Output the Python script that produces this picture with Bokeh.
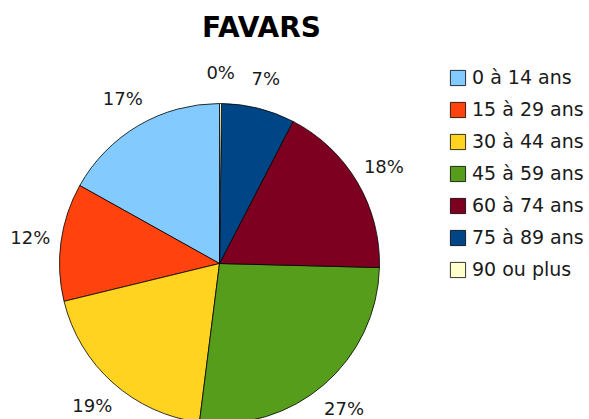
import math
from bokeh.plotting import figure
from bokeh.models import ColumnDataSource, Legend, LegendItem, Label, Range1d
from bokeh.core.properties import value
from bokeh.embed import file_html
from bokeh.resources import INLINE

# ---- data ----
categories = ["0 à 14 ans", "15 à 29 ans", "30 à 44 ans", "45 à 59 ans",
              "60 à 74 ans", "75 à 89 ans", "90 ou plus"]
shares = [16.9, 11.9, 19.2, 26.6, 17.8, 7.4, 0.2]
colors = ["#83caff", "#ff420e", "#ffd320", "#579d1c", "#7e0021", "#004586", "#ffffcc"]
title_text = "FAVARS"

# ---- layout (page px -> data: x = px, y = 419 - py) ----
W, H = 589, 419
cx, cy = 219, H - 263
R = 160
LR = 191

total = sum(shares)
starts, ends, lx, ly, labels = [], [], [], [], []
cum = 0.0
for s in shares:
    a0 = math.pi / 2 + 2 * math.pi * cum / total
    cum += s
    a1 = math.pi / 2 + 2 * math.pi * cum / total
    starts.append(a0)
    ends.append(a1)
    mid = (a0 + a1) / 2
    lx.append(cx + LR * math.cos(mid))
    ly.append(cy + LR * math.sin(mid))
    labels.append(f"{round(s / total * 100)}%")

src = ColumnDataSource(dict(cat=categories, start=starts, end=ends, color=colors,
                            lx=lx, ly=ly, lab=labels))

p = figure(width=W, height=H, x_range=Range1d(0, W), y_range=Range1d(0, H),
           output_backend="svg", toolbar_location=None, min_border=0)
p.axis.visible = False
p.grid.visible = False
p.outline_line_color = None
p.background_fill_color = "white"

r = p.wedge(x=cx, y=cy, radius=R, start_angle="start", end_angle="end",
            fill_color="color", line_color="black", line_width=0.8, source=src)

p.text(x="lx", y="ly", text="lab", source=src, text_align="center",
       text_baseline="middle", text_font=value("DejaVu Sans"),
       text_font_size="18px", text_color="#1a1a1a")

items = [LegendItem(label=c, renderers=[r], index=i) for i, c in enumerate(categories)]
legend = Legend(items=items, location=(448, 139), orientation="vertical",
                glyph_width=19, glyph_height=19, label_height=22, spacing=10,
                label_standoff=5, padding=0, margin=0,
                label_text_font="DejaVu Sans", label_text_font_size="19px",
                label_text_color="#1a1a1a", border_line_color=None,
                background_fill_alpha=0)
p.add_layout(legend, "center")

p.add_layout(Label(x=261, y=H - 27, text=title_text, text_align="center",
                   text_baseline="middle", text_font="DejaVu Sans",
                   text_font_style="bold", text_font_size="28px",
                   text_color="black"))

open("out.html", "w").write(file_html(p, INLINE))
